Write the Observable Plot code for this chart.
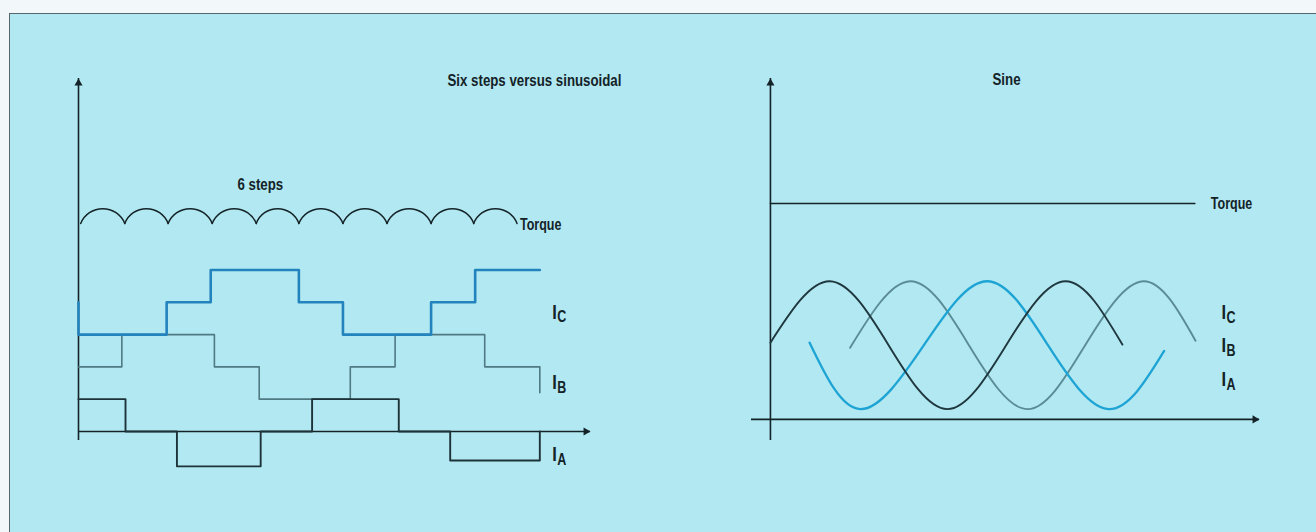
<!DOCTYPE html>
<html>
<head>
<meta charset="utf-8">
<script src="https://cdn.jsdelivr.net/npm/d3@7"></script>
<script src="https://cdn.jsdelivr.net/npm/@observablehq/plot@0.6"></script>
<style>
  html, body { margin: 0; padding: 0; background: #f2f8f9; }
  #page { position: relative; width: 1316px; height: 532px; overflow: hidden; }
  #sheet { position: absolute; left: 9px; top: 13px; right: 0; bottom: 0;
           background: #b2e8f1; border-top: 1.5px solid #56666b; border-left: 1.5px solid #56666b; }
  #left, #right { position: absolute; top: 0; }
  #left { left: 0; }
  #right { left: 660px; }
</style>
</head>
<body>
<div id="page">
  <div id="sheet"></div>
  <div id="left"></div>
  <div id="right"></div>
</div>
<script>
// ---- Six-step drive: phase currents as [electrical angle (deg), current level] ----
const stepA = [[0, 1], [64, 0], [134, -1.08], [248, 0], [318, 1], [436, 0], [506, -0.9], [628, 0]];
const stepB = [[0, 0], [59, 1], [185, 0], [246, -1], [370, 0], [431, 1], [553, 0], [628, -0.8]];
const stepC = [[0, 0], [0, -1], [120, 0], [180, 1], [300, 0], [360, -1], [480, 0], [540, 1], [628, 1]];

// Six-step torque ripple: cusp and crest angles (deg) with normalised torque
const rippleCusps = [3, 63, 122, 182, 242, 300, 360, 420, 480, 538, 597];
const rippleCrests = [34, 92, 152, 212, 270, 330, 390, 450, 509, 567];
const rippleCuspTorque = 0.866;
const rippleCrestTorque = 1;

// ---- Sinusoidal drive: phase currents at start, crests, zero crossings, troughs, end ----
const sineA = [[0, 0.04], [91, 1], [181, 0], [271, -1], [361, 0], [452, 1], [539, 0.01]];
const sineB = [[122, -0.04], [214, 1], [304, 0], [394, -1], [482, 0], [571, 1], [651, 0.07]];
const sineC = [[60, 0.04], [138, -1], [235, 0], [332, 1], [425, 0], [518, -1], [603, -0.09]];
const sineTorque = [[0, 1], [650, 1]];

// ---- Text ----
const phases = ["A", "B", "C"];
const currentSymbol = "I";
const panelTitles = ["Six steps versus sinusoidal", "Sine"];
const stepNote = "6 steps";
const torqueLabel = "Torque";

// ---- Styling ----
const ink = "#142328";
const stepColor = {A: "#1d3339", B: "#4f7a83", C: "#2383bd"};
const stepWidth = {A: 1.9, B: 1.6, C: 2.6};
const sineColor = {A: "#1f373e", B: "#5b8c96", C: "#1ea4d4"};
const font = {fontFamily: "'Liberation Sans', Arial, sans-serif", fontWeight: "bold", fill: ink};
const condensed = 0.78; // horizontal squeeze that gives the bold face a condensed look

// vertical lanes that keep the traces of each panel apart
const stepLane = {A: 0, B: 2, C: 4};
const rippleLane = {base: 3.47, gain: 3.43};
const sineLane = {current: 1.16, torque: 2.375};

const rows = (pts, key, lane) => pts.map(([deg, v]) => ({phase: key, deg, y: lane + v}));

// Curve drawing each run of points as one circular arc through its first, middle and last point
function curveScallop(context) {
  let pts;
  return {
    areaStart() {}, areaEnd() {},
    lineStart() { pts = []; },
    point(x, y) { pts.push([+x, +y]); },
    lineEnd() {
      const [x1, y1] = pts[0], [x2, y2] = pts[Math.floor(pts.length / 2)], [x3, y3] = pts[pts.length - 1];
      const d = 2 * (x1 * (y2 - y3) + x2 * (y3 - y1) + x3 * (y1 - y2));
      const s1 = x1 * x1 + y1 * y1, s2 = x2 * x2 + y2 * y2, s3 = x3 * x3 + y3 * y3;
      const cx = (s1 * (y2 - y3) + s2 * (y3 - y1) + s3 * (y1 - y2)) / d;
      const cy = (s1 * (x3 - x2) + s2 * (x1 - x3) + s3 * (x2 - x1)) / d;
      const r = Math.hypot(x1 - cx, y1 - cy);
      context.moveTo(x1, y1);
      context.arc(cx, cy, r, Math.atan2(y1 - cy, x1 - cx), Math.atan2(y3 - cy, x3 - cx), false);
    }
  };
}

// axis lines with arrowheads at their far ends
const axisMarks = () => [
  Plot.ruleX([0], {stroke: ink, strokeWidth: 1.6}),
  Plot.ruleY([0], {stroke: ink, strokeWidth: 1.6}),
  Plot.dot([0], {x: d => d, frameAnchor: "top", symbol: "triangle", r: 3, fill: ink, stroke: null, dy: 4.6}),
  Plot.dot([0], {y: d => d, frameAnchor: "right", symbol: "triangle", r: 3, fill: ink, stroke: null, rotate: 90, dx: -4.6})
];

// "I" with a lowered phase letter
const phaseLabel = (key, x, y, dx, dy) => [
  Plot.text([currentSymbol], {x: () => x, y: () => y, text: d => d, dx, dy, textAnchor: "start", fontSize: 21, ...font}),
  Plot.text([key], {x: () => x, y: () => y, text: d => d, dx: dx + 5, dy: dy + 5.4, textAnchor: "start", fontSize: 16, ...font})
];

function condense(svg) {
  svg.querySelectorAll("text").forEach(t => {
    const w = t.getComputedTextLength();
    t.setAttribute("textLength", (w * condensed).toFixed(2));
    t.setAttribute("lengthAdjust", "spacingAndGlyphs");
  });
}

// ---------------- left panel: six steps ----------------
const stepSeries = {A: stepA, B: stepB, C: stepC};
const stepEnd = d3.max(phases, p => d3.max(stepSeries[p], d => d[0]));
const stepLabelDy = {A: 22.6, B: 15.6, C: 9.6};

const arches = rippleCrests.flatMap((crest, i) => [
  {arch: i, deg: rippleCusps[i], t: rippleCuspTorque},
  {arch: i, deg: crest, t: rippleCrestTorque},
  {arch: i, deg: rippleCusps[i + 1], t: rippleCuspTorque}
]);
const lastCusp = rippleCusps[rippleCusps.length - 1];

const left = Plot.plot({
  width: 660, height: 532,
  marginLeft: 78, marginRight: 70, marginTop: 78, marginBottom: 92,
  x: {domain: [0, 697], axis: null},
  y: {domain: [-0.28, 10.93], axis: null},
  style: {background: "transparent", overflow: "visible"},
  marks: [
    ...axisMarks(),
    Plot.line(arches, {x: "deg", y: d => rippleLane.base + rippleLane.gain * d.t, z: "arch",
      curve: curveScallop, stroke: ink, strokeWidth: 1.5}),
    ...["B", "A", "C"].map(p => Plot.line(rows(stepSeries[p], p, stepLane[p]), {
      x: "deg", y: "y", curve: "step-after", stroke: stepColor[p], strokeWidth: stepWidth[p]})),
    ...phases.flatMap(p => phaseLabel(p, stepEnd, stepLane[p], 12.5, stepLabelDy[p])),
    Plot.text([torqueLabel], {x: () => lastCusp, y: () => rippleLane.base + rippleLane.gain * rippleCuspTorque,
      text: d => d, dx: 3, dy: 1, textAnchor: "start", fontSize: 16, ...font}),
    Plot.text([stepNote], {frameAnchor: "top-left", text: d => d, dx: 159, dy: 99, textAnchor: "start", fontSize: 17, ...font}),
    Plot.text([panelTitles[0]], {frameAnchor: "top-left", text: d => d, dx: 369, dy: -5, textAnchor: "start", fontSize: 17, ...font})
  ]
});
document.getElementById("left").append(left);
condense(left);

// ---------------- right panel: sine ----------------
const sineSeries = {A: sineA, B: sineB, C: sineC};
const sineEnd = d3.max(phases, p => d3.max(sineSeries[p], d => d[0]));
const sineLabelDy = {A: 34, B: 0, C: -33};
const torqueEnd = sineTorque[sineTorque.length - 1][0];

const right = Plot.plot({
  width: 656, height: 532,
  marginLeft: 91, marginRight: 57, marginTop: 78, marginBottom: 92,
  x: {domain: [-29, 749], axis: null},
  y: {domain: [-0.33, 5.33], axis: null},
  style: {background: "transparent", overflow: "visible"},
  marks: [
    ...axisMarks(),
    Plot.line(sineTorque, {x: d => d[0], y: d => sineLane.torque + d[1], stroke: ink, strokeWidth: 1.6}),
    ...["B", "C", "A"].map(p => Plot.line(rows(sineSeries[p], p, sineLane.current), {
      x: "deg", y: "y", curve: "natural", stroke: sineColor[p], strokeWidth: p === "C" ? 2.3 : 1.9})),
    ...phases.flatMap(p => phaseLabel(p, sineEnd, sineLane.current, 26, sineLabelDy[p])),
    Plot.text([torqueLabel], {x: () => torqueEnd, y: () => sineLane.torque + 1, text: d => d,
      dx: 16, dy: 0, textAnchor: "start", fontSize: 16, ...font}),
    Plot.text([panelTitles[1]], {frameAnchor: "top-left", text: d => d, dx: 255, dy: -6, textAnchor: "middle", fontSize: 17, ...font})
  ]
});
document.getElementById("right").append(right);
condense(right);
</script>
</body>
</html>
